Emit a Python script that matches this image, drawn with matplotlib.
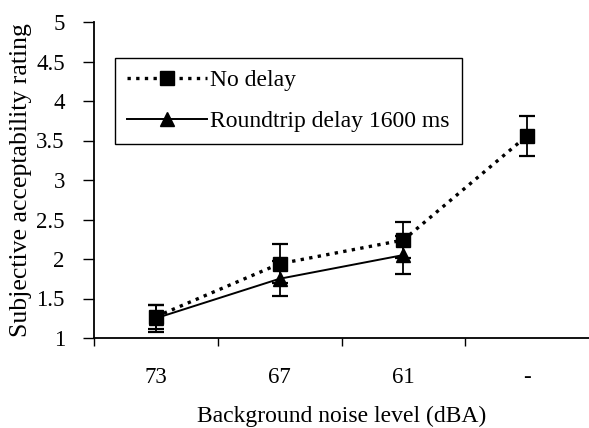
import numpy as np
import matplotlib.pyplot as plt
from matplotlib.lines import Line2D

plt.rcParams['font.family'] = ['Liberation Serif', 'DejaVu Serif']

categories = ["73", "67", "61", "-"]
no_delay = [1.27, 1.94, 2.24, 3.56]
no_delay_err = [0.15, 0.25, 0.23, 0.25]
roundtrip = [1.25, 1.75, 2.05]
roundtrip_err = [0.17, 0.22, 0.24]
yticks = [1, 1.5, 2, 2.5, 3, 3.5, 4, 4.5, 5]
ytick_labels = ['1', '1.5', '2', '2.5', '3', '3.5', '4', '4.5', '5']

fig = plt.figure(figsize=(5.89, 4.28), dpi=100)
ax = fig.add_axes([94 / 589, 1 - 338 / 428, 495 / 589, 316 / 428])

dotted = (0, (1.0, 1.6))
x = np.arange(len(categories))
ax.errorbar(x, no_delay, yerr=no_delay_err, color='black', linestyle=dotted,
            linewidth=2.4, marker='s', markersize=9.5, capsize=6, elinewidth=1.3,
            capthick=1.6)
ax.errorbar(x[:3], roundtrip, yerr=roundtrip_err, color='black', linestyle='-',
            linewidth=1.4, marker='^', markersize=10, capsize=6, elinewidth=1.3,
            capthick=1.6)

ax.set_xlim(-0.5, 3.5)
ax.set_ylim(1, 5)
ax.set_yticks(yticks)
ax.set_yticklabels(ytick_labels, fontsize=16.5)
ax.set_xticks(x)
ax.set_xticklabels(categories, fontsize=16.5)
ax.set_xticks([-0.5, 0.5, 1.5, 2.5], minor=True)
ax.tick_params(axis='x', which='major', length=0, pad=21)
ax.tick_params(axis='x', which='minor', length=6, width=1)
ax.tick_params(axis='y', length=8, width=1, pad=13)

for s in ['top', 'right']:
    ax.spines[s].set_visible(False)
ax.spines['left'].set_linewidth(1.3)
ax.spines['bottom'].set_linewidth(1.3)

ax.set_xlabel('Background noise level (dBA)', fontsize=17, labelpad=13)
ax.set_ylabel('Subjective acceptability rating', fontsize=18.5, labelpad=3)

handles = [
    Line2D([], [], color='black', linestyle=dotted, linewidth=2.4, marker='s', markersize=9.5),
    Line2D([], [], color='black', linestyle='-', linewidth=1.4, marker='^', markersize=10),
]
leg = ax.legend(handles, ['No delay', 'Roundtrip delay 1600 ms'], loc='upper left',
                bbox_to_anchor=(0.042, 0.886), borderaxespad=0, fontsize=17,
                handlelength=3.4, frameon=True, fancybox=False, edgecolor='black',
                borderpad=0.5, labelspacing=0.8, handletextpad=0.15, framealpha=1)
leg.get_frame().set_linewidth(1)

fig.savefig('out.png', dpi=100)
